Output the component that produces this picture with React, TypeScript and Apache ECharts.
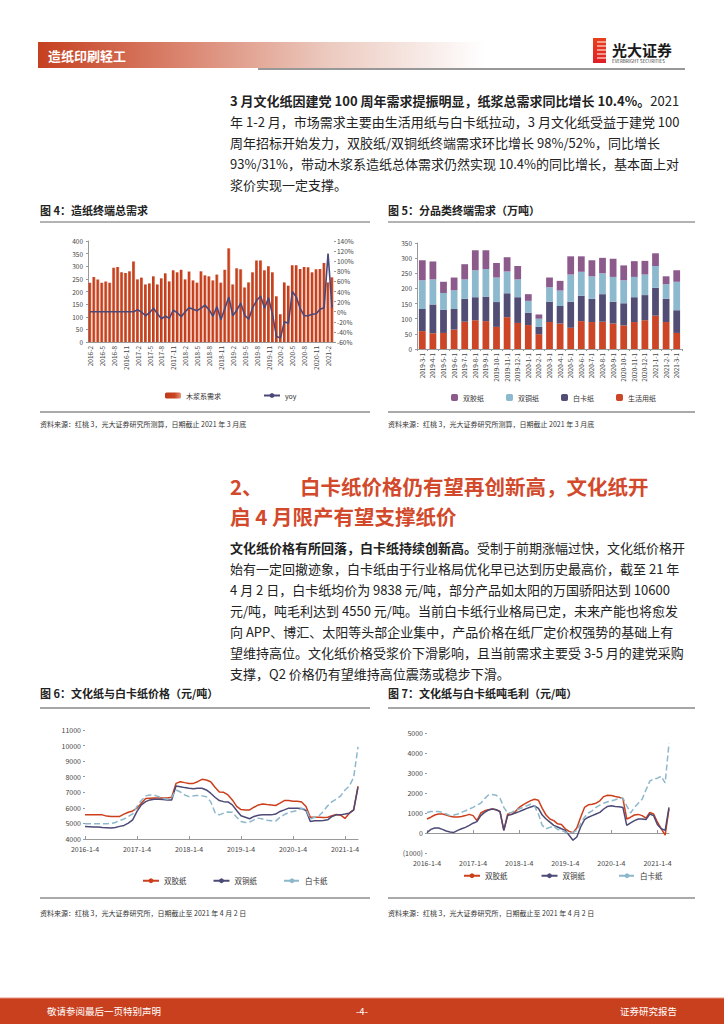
import React, { useEffect, useRef } from "react";
import * as echarts from "echarts";

const FONT = '"Noto Sans CJK SC", "Noto Sans", sans-serif';

// ---------- Chart 4: 造纸终端总需求 ----------
const demandMonths: string[] = [];
for (let y = 2016; y <= 2021; y++) {
  for (let m = 1; m <= 12; m++) {
    if (y === 2016 && m < 2) continue;
    if (y === 2021 && m > 3) continue;
    demandMonths.push(`${y}-${m}`);
  }
}
const demandValues = [
  235, 257, 248, 235, 240, 235, 294, 297, 276, 273, 280, 319,
  248, 255, 228, 232, 260, 228, 252, 272, 240, 284, 276, 286,
  248, 279, 244, 235, 280, 264, 260, 244, 267, 235, 286, 371,
  228, 292, 288, 216, 236, 276, 323, 323, 284, 300, 276, 181,
  110, 236, 223, 304, 304, 289, 297, 296, 276, 288, 289, 313,
  236, 256,
];
const demandYoy = [
  0, 0, 0, 0, 0, 0, 0, 0, 0, 0, 0, 0,
  4, -1, -8, -2, 7, -4, -14, -9, -13, 3, -2, -10,
  0, 8, 5, 2, 7, 13, 4, -9, 10, -16, 7, 29,
  -8, 3, 17, -7, -15, 8, 22, 31, 7, 28, -6, -49,
  -52, -20, -23, 40, 29, 6, -8, -8, -5, -4, 5, 8,
  115, 8,
];

// ---------- Chart 5: 分品类终端需求 ----------
const catMonths = [
  "2019-3-1", "2019-4-1", "2019-5-1", "2019-6-1", "2019-7-1", "2019-8-1", "2019-9-1",
  "2019-10-1", "2019-11-1", "2019-12-1", "2020-1-1", "2020-2-1", "2020-3-1", "2020-4-1",
  "2020-5-1", "2020-6-1", "2020-7-1", "2020-8-1", "2020-9-1", "2020-10-1", "2020-11-1",
  "2020-12-1", "2021-1-1", "2021-2-1", "2021-3-1",
];
const tissueDemand = [59, 52, 53, 64, 90, 95, 92, 73, 105, 86, 79, 49, 89, 84, 70, 92, 89, 90, 84, 78, 89, 95, 110, 89, 53];
const ivoryDemand = [73, 95, 76, 68, 76, 76, 81, 82, 79, 85, 41, 24, 67, 58, 86, 84, 77, 91, 72, 73, 82, 83, 92, 77, 75];
const coatedDemand = [95, 83, 56, 62, 64, 89, 91, 81, 72, 59, 39, 27, 48, 51, 90, 79, 74, 69, 82, 76, 67, 68, 72, 48, 94];
const offsetDemand = [66, 59, 37, 42, 50, 66, 62, 48, 47, 44, 22, 14, 32, 32, 60, 51, 53, 51, 60, 49, 52, 45, 42, 26, 38];

// ---------- Chart 6 / 7: 价格与吨毛利 ----------
const priceDates: string[] = [];
for (let y = 2016; y <= 2021; y++) {
  for (let m = 1; m <= 12; m++) {
    if (y === 2021 && m > 3) continue;
    priceDates.push(`${y}-${m}-4`);
  }
}
priceDates.push("2021-4-2");

const offsetPrice = [
  5550, 5550, 5550, 5550, 5550, 5470, 5450, 5450, 5450, 5600, 5720, 5800,
  5980, 6300, 6600, 6620, 6640, 6640, 6640, 6640, 6680, 7570, 7680, 7620,
  7570, 7570, 7680, 7830, 7790, 7680, 7320, 7020, 7000, 6830, 6510, 6090,
  5890, 5870, 5870, 6040, 6190, 6250, 6210, 6190, 6150, 6300, 6470, 6470,
  6430, 6430, 6380, 6090, 5400, 5400, 5400, 5380, 5400, 5490, 5570, 5530,
  5320, 5660, 5870, 7400,
];
const coatedPrice = [
  4810, 4790, 4770, 4770, 4740, 4720, 4700, 4740, 4810, 4870, 5020, 5230,
  5770, 6190, 6400, 6510, 6550, 6550, 6530, 6510, 6510, 7400, 7360, 7300,
  7260, 7230, 7260, 7260, 7150, 6940, 6680, 6470, 6400, 6380, 6190, 5830,
  5490, 5400, 5300, 5450, 5530, 5550, 5550, 5550, 5600, 5770, 5870, 5980,
  5980, 5980, 5960, 5830, 5130, 5170, 5170, 5190, 5230, 5450, 5550, 5550,
  5600, 5660, 5870, 7320,
];
const ivoryPrice = [
  4980, 4980, 4980, 4980, 4980, 4980, 5000, 5060, 5190, 5280, 5450, 5620,
  6090, 6470, 6770, 6830, 6810, 6720, 6620, 6550, 6680, 7150, 7020, 6830,
  6720, 6770, 6790, 6770, 6720, 6400, 5700, 5550, 5660, 5740, 5720, 5400,
  5130, 5060, 5090, 5230, 5340, 5280, 5210, 5170, 5150, 5400, 5570, 5700,
  5770, 5830, 5960, 5910, 5280, 5400, 5490, 5770, 6130, 6400, 6550, 6770,
  7150, 7400, 7960, 9910,
];

const offsetMargin = [
  700, 790, 900, 950, 950, 900, 840, 800, 800, 820, 870, 930,
  870, 620, 1000, 1110, 1160, 1200, 1160, 1080, 130, 950, 920, 1070,
  1280, 1410, 1520, 1620, 1690, 1640, 1230, 900, 700, 620, 460, 430,
  210, 80, 15, 250, 790, 1280, 1410, 1440, 1490, 1610, 1820, 1890,
  1870, 1820, 1790, 1720, 700, 790, 900, 930, 870, 740, 1030, 950,
  540, 210, -110, 1200,
];
const coatedMargin = [
  15, 180, 250, 250, 180, 100, 50, 30, 130, 210, 280, 380,
  490, 570, 870, 1030, 1150, 1200, 1160, 1070, 130, 870, 930, 1000,
  1070, 1150, 1230, 1300, 1360, 1230, 900, 700, 540, 380, 300, 210,
  130, -110, -360, -200, 300, 670, 790, 870, 950, 1030, 1200, 1330,
  1360, 1330, 1310, 1280, 380, 510, 620, 700, 700, 670, 950, 870,
  410, 210, 130, 1280,
];
const ivoryMargin = [
  1030, 1070, 1080, 1080, 1030, 950, 870, 900, 950, 1030, 1110, 1200,
  1280, 1390, 1490, 1720, 1900, 1930, 1890, 1740, 1280, 1000, 1030, 1130,
  1200, 1280, 1360, 1440, 1340, 950, 380, 210, 280, 340, 180, 130,
  50, 15, 30, 130, 460, 790, 1000, 1110, 1280, 1390, 1490, 1560,
  1610, 1660, 1720, 1750, 1360, 1000, 1280, 1490, 1690, 2150, 2590, 2700,
  2740, 2840, 2500, 4480,
];

// ---------- page texts ----------
const para1 = [
  "年 1-2 月，市场需求主要由生活用纸与白卡纸拉动，3 月文化纸受益于建党 100",
  "周年招标开始发力，双胶纸/双铜纸终端需求环比增长 98%/52%，同比增长",
  "93%/31%，带动木浆系造纸总体需求仍然实现 10.4%的同比增长，基本面上对",
  "浆价实现一定支撑。",
];
const para2 = [
  "始有一定回撤迹象，白卡纸由于行业格局优化早已达到历史最高价，截至 21 年",
  "4 月 2 日，白卡纸均价为 9838 元/吨，部分产品如太阳的万国骄阳达到 10600",
  "元/吨，吨毛利达到 4550 元/吨。当前白卡纸行业格局已定，未来产能也将愈发",
  "向 APP、博汇、太阳等头部企业集中，产品价格在纸厂定价权强势的基础上有",
  "望维持高位。文化纸价格受浆价下滑影响，且当前需求主要受 3-5 月的建党采购",
  "支撑，Q2 价格仍有望维持高位震荡或稳步下滑。",
];

const C_RED = "#cd3f1c";
const C_NAVY = "#4c4a76";
const C_LBLUE = "#8db8cc";
const C_PURPLE = "#8c5a8b";

function txt(text: string, x: number, y: number, size: number, o: any = {}) {
  return {
    type: "text",
    x,
    y,
    silent: true,
    style: {
      text,
      fontSize: size,
      fontFamily: FONT,
      fontWeight: o.bold ? "bold" : "normal",
      fill: o.color || "#222",
      textAlign: o.align || "left",
      align: o.align || "left",
      textVerticalAlign: "middle",
      verticalAlign: "middle",
      rich: o.rich,
    },
  };
}
function hline(x1: number, x2: number, y: number, color: string, w: number) {
  return { type: "line", silent: true, shape: { x1, y1: y, x2, y2: y }, style: { stroke: color, lineWidth: w } };
}

const axisLbl = (size: number) => ({ fontSize: size, color: "#444", fontFamily: FONT });

function buildOption() {
  const graphics: any[] = [];
  // header
  graphics.push({
    type: "rect",
    silent: true,
    shape: { x: 38, y: 42, width: 447, height: 26 },
    style: {
      fill: {
        type: "linear", x: 0, y: 0, x2: 1, y2: 0,
        colorStops: [
          { offset: 0, color: "#c5401f" },
          { offset: 0.3, color: "#d9806a" },
          { offset: 0.65, color: "#eccabf" },
          { offset: 1, color: "#ffffff" },
        ],
      },
    },
  });
  graphics.push(txt("造纸印刷轻工", 48, 55, 13, { color: "#fff", bold: true }));
  graphics.push(hline(258, 685, 69, "#333", 1.2));
  // logo
  graphics.push({
    type: "rect", silent: true, shape: { x: 593, y: 38, width: 13, height: 25 },
    style: { fill: { type: "linear", x: 0, y: 0, x2: 0, y2: 1, colorStops: [{ offset: 0, color: "#e8401e" }, { offset: 1, color: "#e01e28" }] } },
  });
  [42, 46, 50, 54, 58].forEach((yy) => graphics.push(hline(597, 606, yy, "#fbd2c4", 1.3)));
  graphics.push(txt("光大证券", 612, 49, 15, { bold: true, color: "#1a1a1a" }));
  graphics.push(txt("EVERBRIGHT SECURITIES", 612, 61, 4.5, { color: "#333" }));

  // paragraph 1
  graphics.push({
    ...txt("{b|3 月文化纸因建党 100 周年需求提振明显，纸浆总需求同比增长 10.4%。}2021", 230, 100, 13, {
      rich: { b: { fontWeight: "bold", fontSize: 13, fontFamily: FONT, fill: "#222", color: "#222" } },
    }),
  });
  para1.forEach((l, i) => graphics.push(txt(l, 230, 121 + i * 21, 13)));

  // chart 4/5 frames
  graphics.push(txt("图 4：造纸终端总需求", 40, 210, 11, { bold: true }));
  graphics.push(txt("图 5：分品类终端需求（万吨）", 388, 210, 11, { bold: true }));
  graphics.push(hline(40, 370, 222, "#666", 1));
  graphics.push(hline(388, 695, 222, "#666", 1));
  graphics.push(hline(40, 370, 412, "#aaa", 2));
  graphics.push(hline(388, 695, 412, "#aaa", 2));
  graphics.push(txt("资料来源：红桃 3，光大证券研究所测算，日期截止 2021 年 3 月底", 40, 424, 7, { color: "#333" }));
  graphics.push(txt("资料来源：红桃 3，光大证券研究所测算，日期截止 2021 年 3 月底", 388, 424, 7, { color: "#333" }));

  // section title
  graphics.push(txt("2、", 230, 486, 20.5, { bold: true, color: "#d24a2b" }));
  graphics.push(txt("白卡纸价格仍有望再创新高，文化纸开", 300, 486, 20.5, { bold: true, color: "#d24a2b" }));
  graphics.push(txt("启 4 月限产有望支撑纸价", 230, 516, 20.5, { bold: true, color: "#d24a2b" }));

  // paragraph 2
  graphics.push({
    ...txt("{b|文化纸价格有所回落，白卡纸持续创新高。}受制于前期涨幅过快，文化纸价格开", 230, 547, 13, {
      rich: { b: { fontWeight: "bold", fontSize: 13, fontFamily: FONT, fill: "#222", color: "#222" } },
    }),
  });
  para2.forEach((l, i) => graphics.push(txt(l, 230, 568 + i * 21, 13)));

  // chart 6/7 frames
  graphics.push(txt("图 6：文化纸与白卡纸价格（元/吨）", 40, 693, 11, { bold: true }));
  graphics.push(txt("图 7：文化纸与白卡纸吨毛利（元/吨）", 388, 693, 11, { bold: true }));
  graphics.push(hline(40, 370, 708, "#888", 1.5));
  graphics.push(hline(388, 695, 708, "#888", 1.5));
  graphics.push(hline(40, 370, 898, "#aaa", 2));
  graphics.push(hline(388, 695, 898, "#aaa", 2));
  graphics.push(txt("资料来源：红桃 3，光大证券研究所，日期截止至 2021 年 4 月 2 日", 40, 913, 7, { color: "#333" }));
  graphics.push(txt("资料来源：红桃 3，光大证券研究所，日期截止至 2021 年 4 月 2 日", 388, 913, 7, { color: "#333" }));

  // footer
  graphics.push({ type: "rect", silent: true, shape: { x: 0, y: 998, width: 724, height: 26 }, style: { fill: "#c8401e" } });
  graphics.push(hline(0, 724, 998, "#e9937d", 1));
  graphics.push(txt("敬请参阅最后一页特别声明", 47, 1011, 9.5, { color: "#fff" }));
  graphics.push(txt("-4-", 362, 1011, 9.5, { color: "#fff", align: "center" }));
  graphics.push(txt("证券研究报告", 677, 1011, 9.5, { color: "#fff", align: "right" }));

  const trim = (n: string) => n.trim();

  return {
    animation: false,
    textStyle: { fontFamily: FONT },
    grid: [
      { left: 88, top: 241, width: 246, height: 101 },
      { left: 417, top: 243, width: 265, height: 106 },
      { left: 85, top: 730, width: 273, height: 109 },
      { left: 427, top: 733, width: 242, height: 120 },
    ],
    xAxis: [
      {
        type: "category", gridIndex: 0, data: demandMonths,
        axisLine: { lineStyle: { color: "#999" } }, axisTick: { show: false },
        axisLabel: { ...axisLbl(6.5), interval: 2, rotate: 90, margin: 4 },
      },
      {
        type: "category", gridIndex: 1, data: catMonths,
        axisLine: { lineStyle: { color: "#999" } }, axisTick: { show: true, length: 2, lineStyle: { color: "#999" } },
        axisLabel: { ...axisLbl(6.3), interval: 0, rotate: 90, margin: 4 },
      },
      {
        type: "category", gridIndex: 2, data: priceDates, boundaryGap: false,
        axisLine: { lineStyle: { color: "#999" } },
        axisTick: { show: true, inside: true, length: 3, interval: (i: number) => i % 12 === 0, lineStyle: { color: "#999" } },
        axisLabel: { ...axisLbl(7), interval: (i: number) => i % 12 === 0, margin: 6 },
      },
      {
        type: "category", gridIndex: 3, data: priceDates, boundaryGap: false,
        axisLine: { onZero: true, lineStyle: { color: "#999" } },
        axisTick: { show: true, inside: true, length: 3, interval: (i: number) => i % 12 === 0, lineStyle: { color: "#999" } },
        axisLabel: { ...axisLbl(7), interval: (i: number) => i % 12 === 0, margin: 6 },
      },
    ],
    yAxis: [
      {
        type: "value", gridIndex: 0, min: 0, max: 400, interval: 50,
        axisLine: { show: true, lineStyle: { color: "#999" } }, axisTick: { show: true, length: 2, lineStyle: { color: "#999" } },
        splitLine: { show: false }, axisLabel: { ...axisLbl(6.5), margin: 5 },
      },
      {
        type: "value", gridIndex: 0, position: "right", min: -60, max: 140, interval: 20,
        axisLine: { show: false }, axisTick: { show: true, length: 2, lineStyle: { color: "#999" } },
        splitLine: { show: false }, axisLabel: { ...axisLbl(6.5), margin: 3, formatter: "{value}%" },
      },
      {
        type: "value", gridIndex: 1, min: 0, max: 350, interval: 50,
        axisLine: { show: true, lineStyle: { color: "#999" } }, axisTick: { show: true, length: 2, lineStyle: { color: "#999" } },
        splitLine: { show: false }, axisLabel: { ...axisLbl(6.5), margin: 5 },
      },
      {
        type: "value", gridIndex: 2, min: 4000, max: 11000, interval: 1000,
        axisLine: { show: false }, axisTick: { show: true, length: 2, lineStyle: { color: "#999" } },
        splitLine: { show: false }, axisLabel: { ...axisLbl(7), margin: 4, formatter: (v: number) => `${v}` },
      },
      {
        type: "value", gridIndex: 3, min: -1000, max: 5000, interval: 1000,
        axisLine: { show: false }, axisTick: { show: true, length: 2, lineStyle: { color: "#999" } },
        splitLine: { show: false },
        axisLabel: { ...axisLbl(7), margin: 4, formatter: (v: number) => (v < 0 ? `(${-v})` : `${v}`) },
      },
    ],
    legend: [
      {
        left: 160, top: 387, itemWidth: 16, itemHeight: 6, itemGap: 42,
        textStyle: { fontSize: 7, color: "#333", fontFamily: FONT },
        data: ["木浆系需求", "yoy"],
      },
      {
        left: 446, top: 389, itemWidth: 7, itemHeight: 7, itemGap: 22,
        textStyle: { fontSize: 7, color: "#333", fontFamily: FONT },
        data: ["双胶纸", "双铜纸", "白卡纸", "生活用纸"],
      },
      {
        left: 137, top: 872, itemWidth: 16, itemHeight: 6, itemGap: 26, formatter: trim,
        textStyle: { fontSize: 7.5, color: "#333", fontFamily: FONT },
        data: ["双胶纸 ", "双铜纸 ", "白卡纸 "],
      },
      {
        left: 458, top: 867, itemWidth: 16, itemHeight: 6, itemGap: 33, formatter: trim,
        textStyle: { fontSize: 7.5, color: "#333", fontFamily: FONT },
        data: ["双胶纸  ", "双铜纸  ", "白卡纸  "],
      },
    ],
    series: [
      {
        name: "木浆系需求", type: "bar", xAxisIndex: 0, yAxisIndex: 0, data: demandValues, barWidth: "74%",
        itemStyle: {
          color: {
            type: "linear", x: 0, y: 0, x2: 1, y2: 0,
            colorStops: [{ offset: 0, color: "#c03a1a" }, { offset: 0.6, color: "#c8431f" }, { offset: 1, color: "#e59378" }],
          },
        },
      },
      {
        name: "yoy", type: "line", xAxisIndex: 0, yAxisIndex: 1, data: demandYoy, symbol: "none",
        lineStyle: { color: "#4b4878", width: 1.6 }, itemStyle: { color: "#4b4878" },
      },
      { name: "生活用纸", type: "bar", stack: "c5", xAxisIndex: 1, yAxisIndex: 2, data: tissueDemand, barWidth: "64%", itemStyle: { color: "#cc4526" } },
      { name: "白卡纸", type: "bar", stack: "c5", xAxisIndex: 1, yAxisIndex: 2, data: ivoryDemand, barWidth: "64%", itemStyle: { color: "#524d74" } },
      { name: "双铜纸", type: "bar", stack: "c5", xAxisIndex: 1, yAxisIndex: 2, data: coatedDemand, barWidth: "64%", itemStyle: { color: "#8cb9cd" } },
      { name: "双胶纸", type: "bar", stack: "c5", xAxisIndex: 1, yAxisIndex: 2, data: offsetDemand, barWidth: "64%", itemStyle: { color: C_PURPLE } },
      {
        name: "双胶纸 ", type: "line", xAxisIndex: 2, yAxisIndex: 3, data: offsetPrice, symbol: "none",
        lineStyle: { color: C_RED, width: 1.5 }, itemStyle: { color: C_RED },
      },
      {
        name: "双铜纸 ", type: "line", xAxisIndex: 2, yAxisIndex: 3, data: coatedPrice, symbol: "none",
        lineStyle: { color: C_NAVY, width: 1.5 }, itemStyle: { color: C_NAVY },
      },
      {
        name: "白卡纸 ", type: "line", xAxisIndex: 2, yAxisIndex: 3, data: ivoryPrice, symbol: "none",
        lineStyle: { color: C_LBLUE, width: 1.5, type: [6, 3] }, itemStyle: { color: C_LBLUE },
      },
      {
        name: "双胶纸  ", type: "line", xAxisIndex: 3, yAxisIndex: 4, data: offsetMargin, symbol: "none",
        lineStyle: { color: C_RED, width: 1.5 }, itemStyle: { color: C_RED },
      },
      {
        name: "双铜纸  ", type: "line", xAxisIndex: 3, yAxisIndex: 4, data: coatedMargin, symbol: "none",
        lineStyle: { color: C_NAVY, width: 1.5 }, itemStyle: { color: C_NAVY },
      },
      {
        name: "白卡纸  ", type: "line", xAxisIndex: 3, yAxisIndex: 4, data: ivoryMargin, symbol: "none",
        lineStyle: { color: C_LBLUE, width: 1.5, type: [6, 3] }, itemStyle: { color: C_LBLUE },
      },
    ],
    graphic: { elements: graphics },
  };
}

export default function App() {
  const ref = useRef<HTMLDivElement>(null);
  useEffect(() => {
    if (!ref.current) return;
    const chart = echarts.init(ref.current, null, { renderer: "svg" });
    chart.setOption(buildOption() as any);
    return () => chart.dispose();
  }, []);
  return (
    <div
      ref={ref}
      style={{ position: "absolute", left: 0, top: 0, width: 724, height: 1024, background: "#fff" }}
    />
  );
}
